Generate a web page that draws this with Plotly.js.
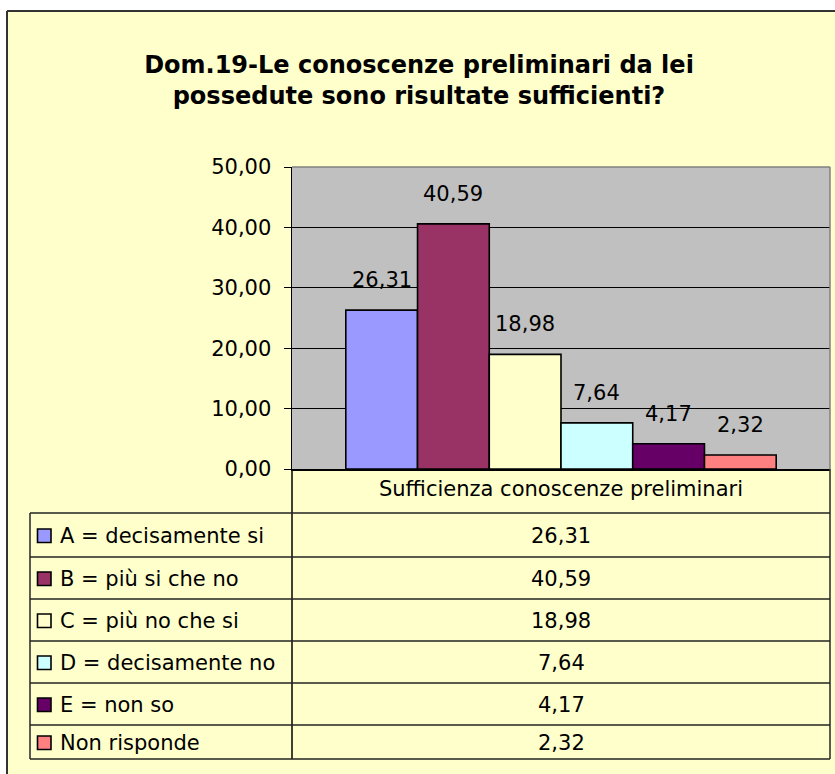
<!DOCTYPE html>
<html><head><meta charset="utf-8">
<script src="https://cdn.plot.ly/plotly-3.0.1.min.js"></script>
<style>html,body{margin:0;padding:0;background:#FFFFCC;overflow:hidden;} #chart{width:835px;height:774px;}</style>
</head><body><div id="chart"></div>
<script>
// ---- data ----
const chartTitle = 'Dom.19-Le conoscenze preliminari da lei<br>possedute sono risultate sufficienti?';
const category = 'Sufficienza conoscenze preliminari';
const seriesNames = ['A = decisamente si', 'B = più si che no', 'C = più no che si', 'D = decisamente no', 'E = non so', 'Non risponde'];
const seriesValues = [26.31, 40.59, 18.98, 7.64, 4.17, 2.32];
const seriesColors = ['#9999FF', '#993366', '#FFFFCC', '#CCFFFF', '#660066', '#FF8080'];
const yTickValues = [0, 10, 20, 30, 40, 50];

// ---- layout constants ----
const W = 835, H = 774, L = 292, R = 5, T = 167, B = 305;
const PW = W - L - R, PH = H - T - B;
const px2x = p => (p - L) / PW;
const px2y = p => (T + PH - p) / PH;
const FONT = 'DejaVu Sans';
const FS = 21;
const fmt = v => v.toFixed(2).replace('.', ',');
const rowBounds = [513, 557, 599, 641, 683, 725, 759];
const tableLeft = 30, tableRight = 830;
const BARGAP = 0.2;

const traces = seriesNames.map((n, i) => ({
  type: 'bar', name: n, x: [category], y: [seriesValues[i]],
  marker: {color: seriesColors[i], line: {color: '#000', width: 1.6}},
  hoverinfo: 'none'
}));

const shapes = [];
const line = (x0, y0, x1, y1, color, width) => shapes.push({type: 'line', xref: 'paper', yref: 'paper',
  x0: px2x(x0), y0: px2y(y0), x1: px2x(x1), y1: px2y(y1), line: {color: color, width: width}, layer: 'above'});
// white outside the chart frame
shapes.push({type: 'rect', xref: 'paper', yref: 'paper', x0: px2x(0), x1: px2x(6), y0: px2y(H), y1: px2y(0), fillcolor: '#fff', line: {width: 0}, layer: 'above'});
shapes.push({type: 'rect', xref: 'paper', yref: 'paper', x0: px2x(0), x1: px2x(W), y0: px2y(10), y1: px2y(0), fillcolor: '#fff', line: {width: 0}, layer: 'above'});
line(7, 11, 7, H, '#333', 2);
line(7, 11, W, 11, '#333', 2);
// plot frame (top/right gray)
line(L, T, tableRight, T, '#808080', 1.5);
line(tableRight, T, tableRight, T + PH, '#808080', 1.5);
// data table grid
line(L, T + PH, L, rowBounds[rowBounds.length - 1], '#000', 1.5);
line(tableRight, T + PH, tableRight, rowBounds[rowBounds.length - 1], '#333', 1.6);
line(tableLeft, rowBounds[0], tableLeft, rowBounds[rowBounds.length - 1], '#333', 1.6);
rowBounds.forEach(y => line(tableLeft, y, tableRight, y, '#222', 1.4));

const annotations = [];
// bar value labels
const nS = seriesValues.length;
const bw = (1 - BARGAP) / nS;
seriesValues.forEach((v, i) => {
  annotations.push({xref: 'x', yref: 'y', x: (i - (nS - 1) / 2) * bw, y: v, yanchor: 'bottom', yshift: 16,
    showarrow: false, text: fmt(v), font: {family: FONT, size: FS, color: '#000'}});
});
// table rows
seriesNames.forEach((n, i) => {
  const yc = (rowBounds[i] + rowBounds[i + 1]) / 2 + 1;
  shapes.push({type: 'rect', xref: 'paper', yref: 'paper', x0: px2x(37.5), x1: px2x(51), y0: px2y(yc + 6.5), y1: px2y(yc - 7),
    fillcolor: seriesColors[i], line: {color: '#000', width: 1.6}, layer: 'above'});
  annotations.push({xref: 'paper', yref: 'paper', x: px2x(58), y: px2y(yc), xanchor: 'left', yanchor: 'middle',
    showarrow: false, text: n, font: {family: FONT, size: FS, color: '#000'}});
  annotations.push({xref: 'paper', yref: 'paper', x: px2x((L + tableRight) / 2), y: px2y(yc), xanchor: 'center', yanchor: 'middle',
    showarrow: false, text: fmt(seriesValues[i]), font: {family: FONT, size: FS, color: '#000'}});
});

const layout = {
  width: W, height: H,
  margin: {l: L, r: R, t: T, b: B, pad: 0},
  paper_bgcolor: '#FFFFCC', plot_bgcolor: '#C0C0C0',
  separators: ',.',
  showlegend: false,
  barmode: 'group', bargap: BARGAP, bargroupgap: 0,
  title: {text: chartTitle, x: 419 / W, xref: 'container', xanchor: 'center', y: 1 - 73 / H, yref: 'container', yanchor: 'middle',
    font: {family: FONT, size: 24, color: '#000', weight: 'bold'}},
  xaxis: {type: 'category', showline: true, linecolor: '#000', linewidth: 1.5, showgrid: false, ticks: '',
    tickfont: {family: FONT, size: FS, color: '#000'}, fixedrange: true},
  yaxis: {range: [0, 50], tickvals: yTickValues, tickformat: '.2f', showline: true, linecolor: '#000', linewidth: 1.5,
    ticks: 'outside', ticklen: 7, tickcolor: '#000', tickwidth: 1, ticklabelstandoff: 8,
    showgrid: true, gridcolor: '#000', gridwidth: 1, zeroline: false,
    tickfont: {family: FONT, size: FS, color: '#000'}, fixedrange: true},
  shapes: shapes,
  annotations: annotations
};

Plotly.newPlot('chart', traces, layout, {displayModeBar: false, staticPlot: true});
</script>
</body></html>
